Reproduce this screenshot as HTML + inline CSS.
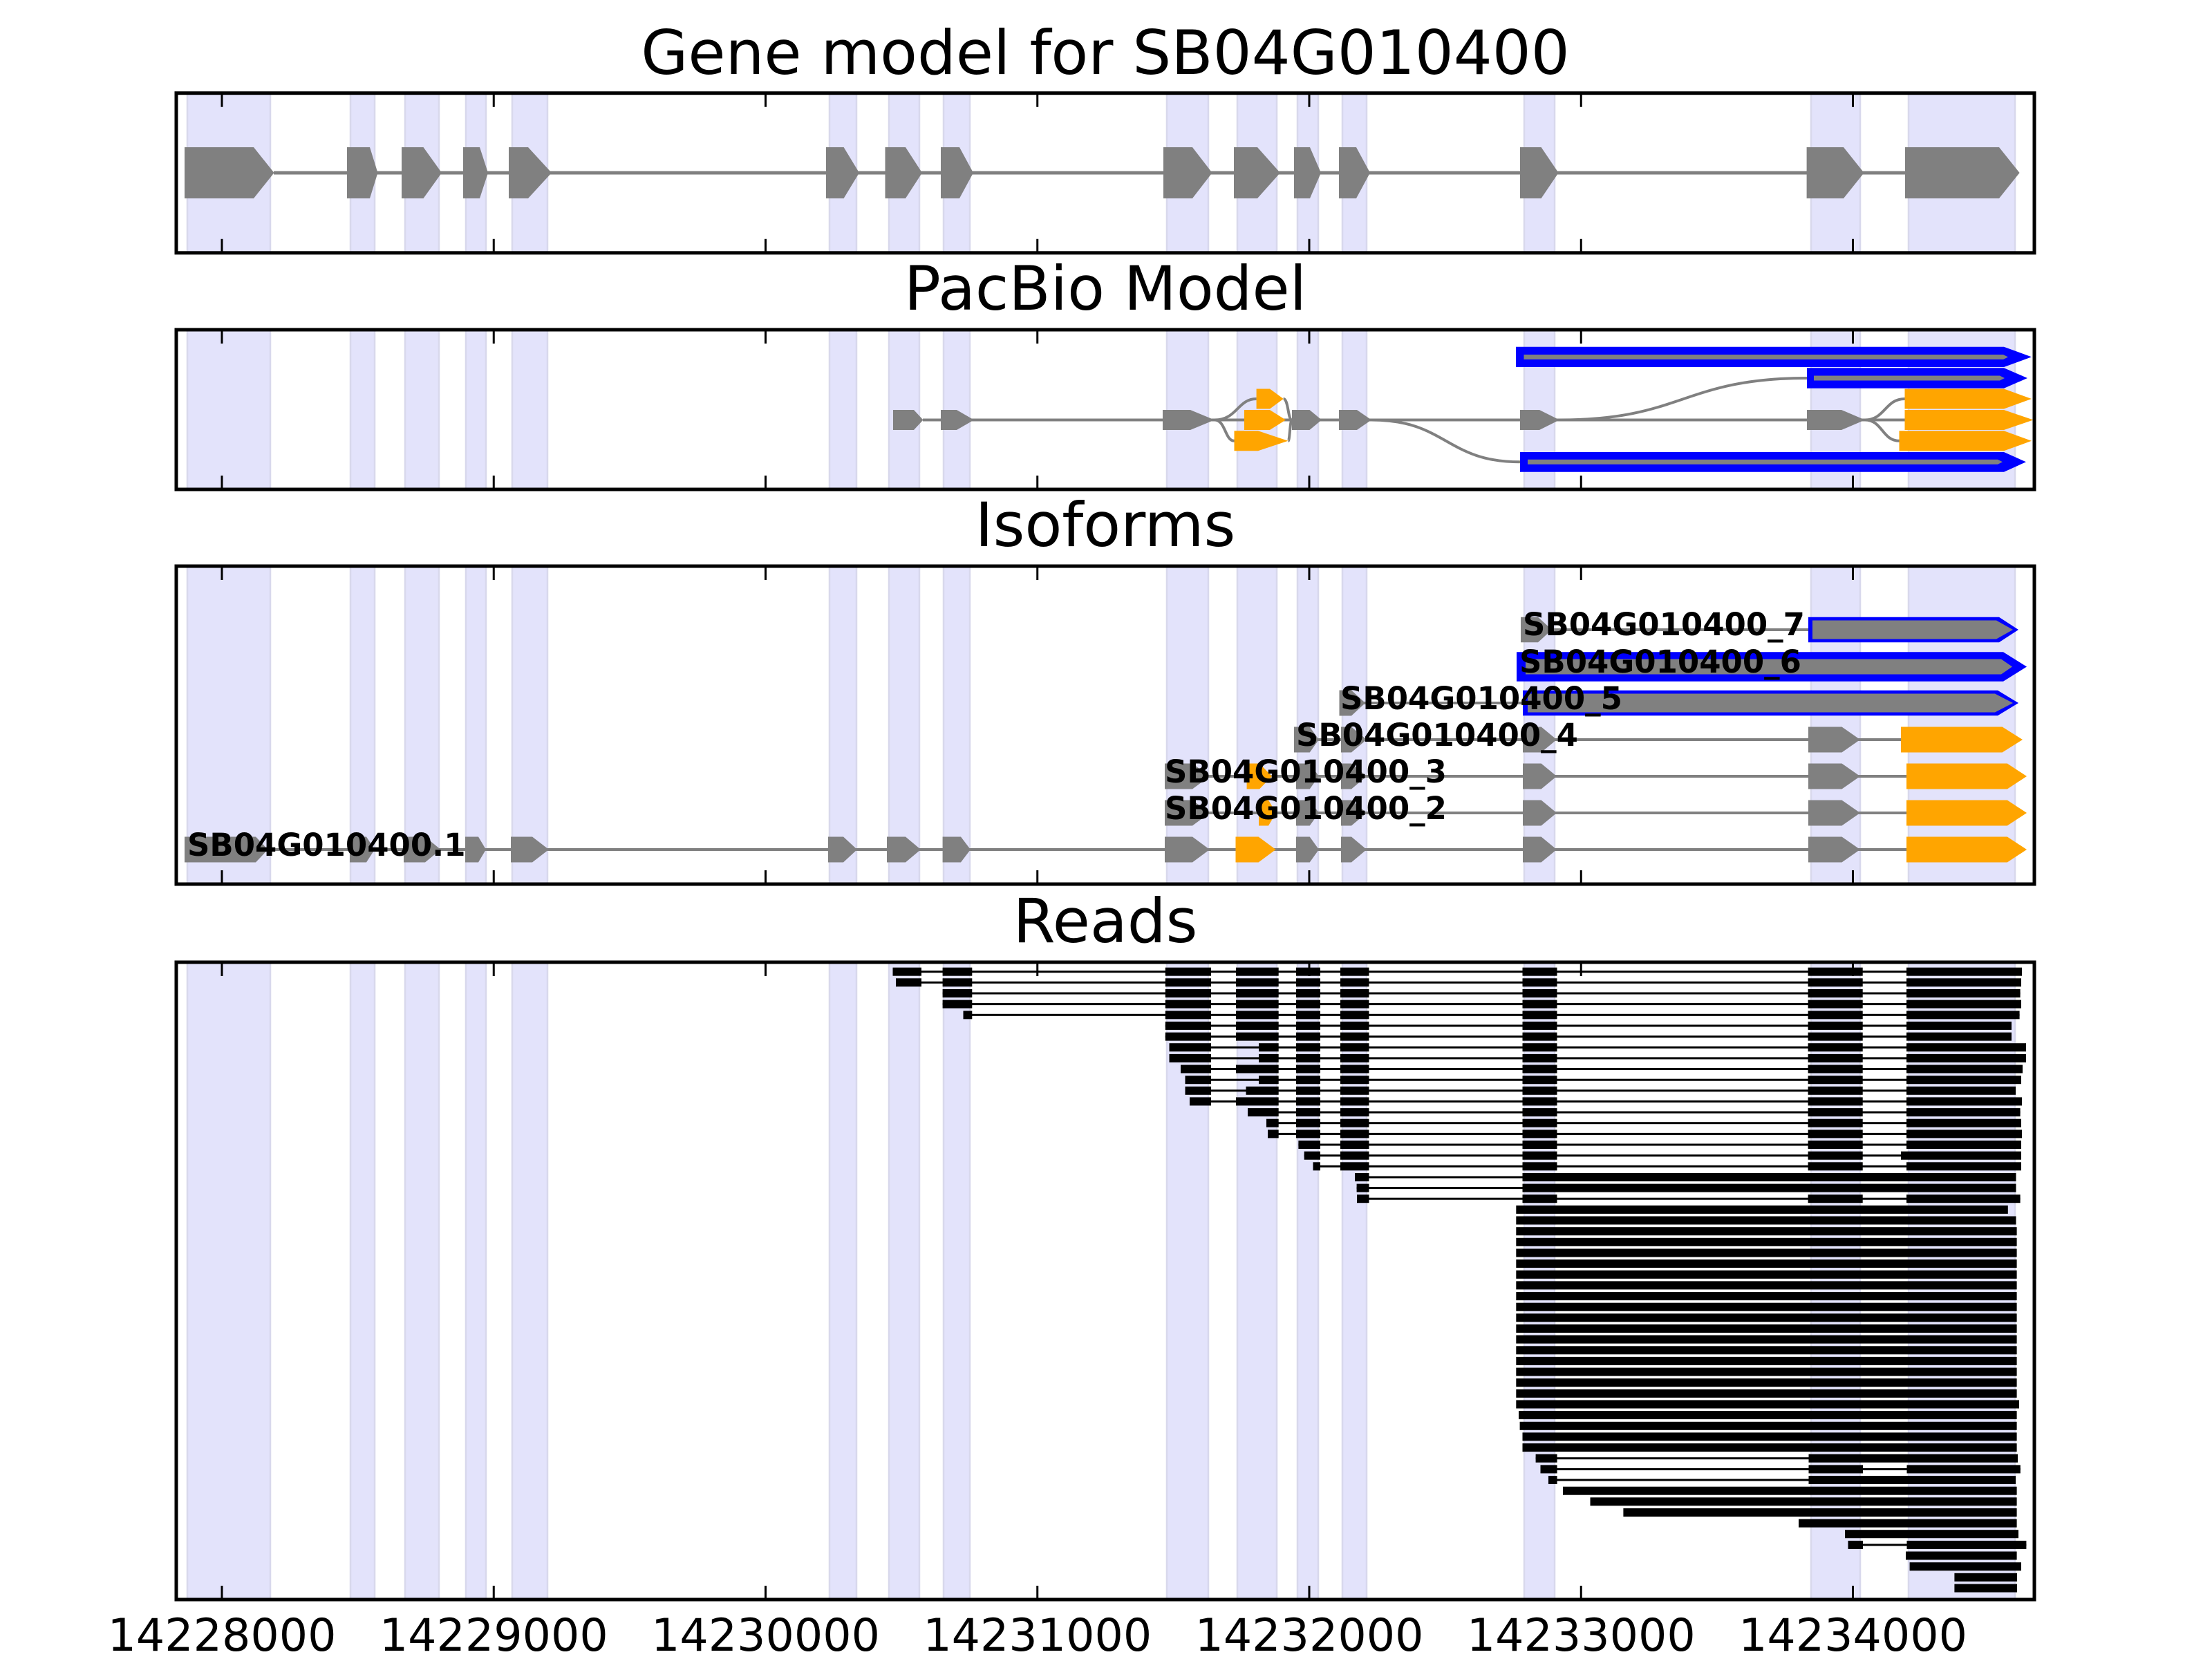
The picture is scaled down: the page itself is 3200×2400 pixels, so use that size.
<!DOCTYPE html>
<html><head><meta charset="utf-8"><style>
html,body{margin:0;padding:0;background:#fff;}
svg{display:block;}
.t{font-family:"DejaVu Sans","Liberation Sans",sans-serif;}
</style></head><body>
<svg xmlns="http://www.w3.org/2000/svg" xmlns:xlink="http://www.w3.org/1999/xlink" width="3200" height="2400" viewBox="0 0 3200 2400">
<defs>
<rect id="sb" x="2193.3" y="-6" width="724.3" height="12"/>
</defs>
<rect width="3200" height="2400" fill="#fff"/>

<!-- spans per panel -->
<g fill="#e3e3fb" stroke="#d8d8ec" stroke-width="2.5">
<g>
<rect x="271" y="134.7" width="120" height="231.1"/>
<rect x="507" y="134.7" width="35" height="231.1"/>
<rect x="586" y="134.7" width="49" height="231.1"/>
<rect x="674" y="134.7" width="29" height="231.1"/>
<rect x="741" y="134.7" width="51" height="231.1"/>
<rect x="1200" y="134.7" width="39" height="231.1"/>
<rect x="1286" y="134.7" width="44" height="231.1"/>
<rect x="1365" y="134.7" width="38" height="231.1"/>
<rect x="1688" y="134.7" width="60" height="231.1"/>
<rect x="1790" y="134.7" width="57" height="231.1"/>
<rect x="1877" y="134.7" width="30" height="231.1"/>
<rect x="1942" y="134.7" width="35" height="231.1"/>
<rect x="2205" y="134.7" width="44" height="231.1"/>
<rect x="2620" y="134.7" width="71" height="231.1"/>
<rect x="2761" y="134.7" width="154" height="231.1"/>
</g>
<g>
<rect x="271" y="477" width="120" height="231"/>
<rect x="507" y="477" width="35" height="231"/>
<rect x="586" y="477" width="49" height="231"/>
<rect x="674" y="477" width="29" height="231"/>
<rect x="741" y="477" width="51" height="231"/>
<rect x="1200" y="477" width="39" height="231"/>
<rect x="1286" y="477" width="44" height="231"/>
<rect x="1365" y="477" width="38" height="231"/>
<rect x="1688" y="477" width="60" height="231"/>
<rect x="1790" y="477" width="57" height="231"/>
<rect x="1877" y="477" width="30" height="231"/>
<rect x="1942" y="477" width="35" height="231"/>
<rect x="2205" y="477" width="44" height="231"/>
<rect x="2620" y="477" width="71" height="231"/>
<rect x="2761" y="477" width="154" height="231"/>
</g>
<g>
<rect x="271" y="819" width="120" height="460"/>
<rect x="507" y="819" width="35" height="460"/>
<rect x="586" y="819" width="49" height="460"/>
<rect x="674" y="819" width="29" height="460"/>
<rect x="741" y="819" width="51" height="460"/>
<rect x="1200" y="819" width="39" height="460"/>
<rect x="1286" y="819" width="44" height="460"/>
<rect x="1365" y="819" width="38" height="460"/>
<rect x="1688" y="819" width="60" height="460"/>
<rect x="1790" y="819" width="57" height="460"/>
<rect x="1877" y="819" width="30" height="460"/>
<rect x="1942" y="819" width="35" height="460"/>
<rect x="2205" y="819" width="44" height="460"/>
<rect x="2620" y="819" width="71" height="460"/>
<rect x="2761" y="819" width="154" height="460"/>
</g>
<g>
<rect x="271" y="1392" width="120" height="922"/>
<rect x="507" y="1392" width="35" height="922"/>
<rect x="586" y="1392" width="49" height="922"/>
<rect x="674" y="1392" width="29" height="922"/>
<rect x="741" y="1392" width="51" height="922"/>
<rect x="1200" y="1392" width="39" height="922"/>
<rect x="1286" y="1392" width="44" height="922"/>
<rect x="1365" y="1392" width="38" height="922"/>
<rect x="1688" y="1392" width="60" height="922"/>
<rect x="1790" y="1392" width="57" height="922"/>
<rect x="1877" y="1392" width="30" height="922"/>
<rect x="1942" y="1392" width="35" height="922"/>
<rect x="2205" y="1392" width="44" height="922"/>
<rect x="2620" y="1392" width="71" height="922"/>
<rect x="2761" y="1392" width="154" height="922"/>
</g>
</g>

<!-- Titles -->
<g class="t" font-size="88" text-anchor="middle" fill="#000">
<text x="1599" y="107">Gene model for SB04G010400</text>
<text x="1599" y="448">PacBio Model</text>
<text x="1599" y="790">Isoforms</text>
<text x="1599" y="1363">Reads</text>
</g>

<!-- Panel 1: gene model -->
<line x1="396" y1="250" x2="2760" y2="250" stroke="#808080" stroke-width="5"/>
<g fill="#808080">
<polygon points="267,213 367,213 396.5,250 367,287 267,287"/>
<polygon points="502,213 535,213 546.5,250 535,287 502,287"/>
<polygon points="581,213 612.5,213 639,250 612.5,287 581,287"/>
<polygon points="670,213 694,213 706,250 694,287 670,287"/>
<polygon points="736,213 764,213 798,250 764,287 736,287"/>
<polygon points="1195,213 1220.6,213 1243,250 1220.6,287 1195,287"/>
<polygon points="1280.5,213 1310,213 1334,250 1310,287 1280.5,287"/>
<polygon points="1361,213 1388,213 1408,250 1388,287 1361,287"/>
<polygon points="1683,213 1725,213 1753.6,250 1725,287 1683,287"/>
<polygon points="1785,213 1819,213 1852,250 1819,287 1785,287"/>
<polygon points="1872,213 1895,213 1911,250 1895,287 1872,287"/>
<polygon points="1937,213 1962,213 1982,250 1962,287 1937,287"/>
<polygon points="2199,213 2229.6,213 2254.6,250 2229.6,287 2199,287"/>
<polygon points="2613.6,213 2667,213 2696.6,250 2667,287 2613.6,287"/>
<polygon points="2756,213 2892,213 2921.6,250 2892,287 2756,287"/>
</g>

<!-- Panel 2: PacBio -->
<g fill="none" stroke="#808080" stroke-width="4">
<line x1="1335" y1="607.5" x2="2757" y2="607.5"/>
<path d="M1757 607.5 C1790 607.5 1790 577 1817.6 577"/>
<path d="M1856.7 577 C1864 577 1863 607.5 1869 607.5"/>
<path d="M1757 607.5 C1773 607.5 1772 637.8 1785.5 637.8"/>
<path d="M1863.5 637.8 C1866 637.8 1866 607.5 1869 607.5"/>
<path d="M2256 607.5 C2435 607.5 2435 547 2614 547"/>
<path d="M1984 607.5 C2092 607.5 2092 668.3 2199 668.3"/>
<path d="M2698 607.5 C2727 607.5 2727 577 2755.5 577"/>
<path d="M2698 607.5 C2723 607.5 2723 637.8 2747.5 637.8"/>
</g>
<g fill="#808080">
<polygon points="1292,593 1322,593 1335.5,607.5 1322,622 1292,622"/>
<polygon points="1361,593 1384,593 1409,607.5 1384,622 1361,622"/>
<polygon points="1682,593 1722,593 1757,607.5 1722,622 1682,622"/>
<polygon points="1869,593 1894.5,593 1912,607.5 1894.5,622 1869,622"/>
<polygon points="1937,593 1963,593 1984,607.5 1963,622 1937,622"/>
<polygon points="2199,593 2227,593 2256,607.5 2227,622 2199,622"/>
<polygon points="2614,593 2664,593 2698,607.5 2664,622 2614,622"/>
</g>
<g fill="#ffa500">
<polygon points="1800,593 1837,593 1860,607.5 1837,622 1800,622"/>
<polygon points="2755.5,593 2899,593 2941.5,607.5 2899,622 2755.5,622"/>
<polygon points="1817.6,562.5 1837,562.5 1856.7,577 1837,591.5 1817.6,591.5"/>
<polygon points="2755.5,562.5 2899,562.5 2939,577 2899,591.5 2755.5,591.5"/>
<polygon points="1785.5,623.3 1820,623.3 1863.5,637.8 1820,652.3 1785.5,652.3"/>
<polygon points="2747.5,623.3 2899,623.3 2939,637.8 2899,652.3 2747.5,652.3"/>
</g>
<g fill="#0000ff">
<polygon points="2193,501.7 2899,501.7 2939,516.35 2899,531 2193,531"/>
<polygon points="2614,532.3 2899,532.3 2933,547 2899,561.7 2614,561.7"/>
<polygon points="2199,654 2899,654 2931,668.3 2899,682.7 2199,682.7"/>
</g>
<g fill="#808080">
<polygon points="2204.5,513 2898,513 2905,516.5 2898,520 2204.5,520"/>
<polygon points="2624,543.5 2893,543.5 2900,547 2893,550.5 2624,550.5"/>
<polygon points="2210,664.8 2890,664.8 2897,668.3 2890,671.8 2210,671.8"/>
</g>

<!-- Panel 3: Isoforms -->
<g stroke="#808080" stroke-width="4">
<line x1="267" y1="1229" x2="2760" y2="1229"/>
<line x1="1685" y1="1176" x2="2760" y2="1176"/>
<line x1="1685" y1="1123" x2="2760" y2="1123"/>
<line x1="1872" y1="1070" x2="2752" y2="1070"/>
<line x1="1937.5" y1="1017" x2="2205" y2="1017"/>
<line x1="2245" y1="911" x2="2618" y2="911"/>
</g>
<g transform="translate(0,1229)">
<g fill="#808080">
<polygon points="267,-18.5 370,-18.5 387.5,0 370,18.5 267,18.5"/>
<polygon points="506,-18.5 530,-18.5 542,0 530,18.5 506,18.5"/>
<polygon points="584,-18.5 615,-18.5 637.6,0 615,18.5 584,18.5"/>
<polygon points="673,-18.5 692,-18.5 703,0 692,18.5 673,18.5"/>
<polygon points="739,-18.5 770,-18.5 794,0 770,18.5 739,18.5"/>
<polygon points="1198,-18.5 1220,-18.5 1240,0 1220,18.5 1198,18.5"/>
<polygon points="1283,-18.5 1310,-18.5 1332,0 1310,18.5 1283,18.5"/>
<polygon points="1363.6,-18.5 1390,-18.5 1404,0 1390,18.5 1363.6,18.5"/>
<polygon points="1685,-18.5 1725,-18.5 1750,0 1725,18.5 1685,18.5"/>
<polygon points="1875,-18.5 1894.7,-18.5 1908,0 1894.7,18.5 1875,18.5"/>
<polygon points="1940,-18.5 1955,-18.5 1977,0 1955,18.5 1940,18.5"/>
<polygon points="2203,-18.5 2229.6,-18.5 2252,0 2229.6,18.5 2203,18.5"/>
<polygon points="2616,-18.5 2664.5,-18.5 2691,0 2664.5,18.5 2616,18.5"/>
</g>
<g fill="#ffa500">
<polygon points="1787.5,-18.5 1820.6,-18.5 1845.6,0 1820.6,18.5 1787.5,18.5"/>
<polygon points="2758,-18.5 2903.8,-18.5 2932,0 2903.8,18.5 2758,18.5"/>
</g>
</g>
<g transform="translate(0,1176)">
<g fill="#808080">
<polygon points="1685,-18.5 1725,-18.5 1750,0 1725,18.5 1685,18.5"/>
<polygon points="1875,-18.5 1894.7,-18.5 1908,0 1894.7,18.5 1875,18.5"/>
<polygon points="1940,-18.5 1955,-18.5 1977,0 1955,18.5 1940,18.5"/>
<polygon points="2203,-18.5 2229.6,-18.5 2252,0 2229.6,18.5 2203,18.5"/>
<polygon points="2616,-18.5 2664.5,-18.5 2691,0 2664.5,18.5 2616,18.5"/>
</g>
<g fill="#ffa500">
<polygon points="1821,-18.5 1835,-18.5 1846,0 1835,18.5 1821,18.5"/>
<polygon points="2758,-18.5 2903.8,-18.5 2932,0 2903.8,18.5 2758,18.5"/>
</g>
</g>
<g transform="translate(0,1123)">
<g fill="#808080">
<polygon points="1685,-18.5 1725,-18.5 1750,0 1725,18.5 1685,18.5"/>
<polygon points="1875,-18.5 1894.7,-18.5 1908,0 1894.7,18.5 1875,18.5"/>
<polygon points="1940,-18.5 1955,-18.5 1977,0 1955,18.5 1940,18.5"/>
<polygon points="2203,-18.5 2229.6,-18.5 2252,0 2229.6,18.5 2203,18.5"/>
<polygon points="2616,-18.5 2664.5,-18.5 2691,0 2664.5,18.5 2616,18.5"/>
</g>
<g fill="#ffa500">
<polygon points="1803.6,-18.5 1822,-18.5 1840,0 1822,18.5 1803.6,18.5"/>
<polygon points="2758,-18.5 2903.8,-18.5 2932,0 2903.8,18.5 2758,18.5"/>
</g>
</g>
<g transform="translate(0,1070)">
<g fill="#808080">
<polygon points="1872,-18.5 1894.7,-18.5 1908,0 1894.7,18.5 1872,18.5"/>
<polygon points="1940,-18.5 1955,-18.5 1977,0 1955,18.5 1940,18.5"/>
<polygon points="2203,-18.5 2229.6,-18.5 2252,0 2229.6,18.5 2203,18.5"/>
<polygon points="2616,-18.5 2664.5,-18.5 2691,0 2664.5,18.5 2616,18.5"/>
</g>
<polygon fill="#ffa500" points="2750,-18.5 2896.6,-18.5 2926,0 2896.6,18.5 2750,18.5"/>
</g>
<g transform="translate(0,1017)">
<polygon fill="#808080" points="1937.5,-18.5 1955,-18.5 1975,0 1955,18.5 1937.5,18.5"/>
<polygon fill="#0000ff" points="2203,-18.3 2890,-18.3 2920,0 2890,18.3 2203,18.3"/>
<polygon fill="#808080" points="2210,-13.5 2886,-13.5 2912,0 2886,13.5 2210,13.5"/>
</g>
<g transform="translate(0,964.5)">
<polygon fill="#0000ff" points="2194,-21.2 2898,-21.2 2932,0 2898,21.2 2194,21.2"/>
<polygon fill="#808080" points="2207,-11 2895,-11 2911,0 2895,11 2207,11"/>
</g>
<g transform="translate(0,911)">
<polygon fill="#808080" points="2200,-18.3 2225,-18.3 2245,0 2225,18.3 2200,18.3"/>
<polygon fill="#0000ff" points="2616,-18.3 2892,-18.3 2920,0 2892,18.3 2616,18.3"/>
<polygon fill="#808080" points="2622,-13.5 2888,-13.5 2912,0 2888,13.5 2622,13.5"/>
</g>
<g class="t" font-size="45" font-weight="bold" fill="#000">
<text x="271" y="1238">SB04G010400.1</text>
<text x="1685" y="1185">SB04G010400_2</text>
<text x="1685" y="1132">SB04G010400_3</text>
<text x="1875" y="1079">SB04G010400_4</text>
<text x="1939" y="1026">SB04G010400_5</text>
<text x="2198" y="973">SB04G010400_6</text>
<text x="2203" y="919">SB04G010400_7</text>
</g>

<!-- Panel 4: Reads -->
<g fill="#000">
<g transform="translate(0,1405.7)"><rect x="1291.5" y="-1.5" width="1633.5" height="3"/><rect x="1291.5" y="-6" width="41.5" height="12"/><rect x="1363.6" y="-6" width="42.7" height="12"/><rect x="1685.8" y="-6" width="66.2" height="12"/><rect x="1788" y="-6" width="61.7" height="12"/><rect x="1875" y="-6" width="35" height="12"/><rect x="1939" y="-6" width="41.5" height="12"/><rect x="2202.5" y="-6" width="50" height="12"/><rect x="2615.6" y="-6" width="79.1" height="12"/><rect x="2758" y="-6" width="167" height="12"/></g>
<g transform="translate(0,1421.3)"><rect x="1296" y="-1.5" width="1628" height="3"/><rect x="1296" y="-6" width="37" height="12"/><rect x="1363.6" y="-6" width="42.7" height="12"/><rect x="1685.8" y="-6" width="66.2" height="12"/><rect x="1788" y="-6" width="61.7" height="12"/><rect x="1875" y="-6" width="35" height="12"/><rect x="1939" y="-6" width="41.5" height="12"/><rect x="2202.5" y="-6" width="50" height="12"/><rect x="2615.6" y="-6" width="79.1" height="12"/><rect x="2758" y="-6" width="166" height="12"/></g>
<g transform="translate(0,1437)"><rect x="1363.6" y="-1.5" width="1559" height="3"/><rect x="1363.6" y="-6" width="42.7" height="12"/><rect x="1685.8" y="-6" width="66.2" height="12"/><rect x="1788" y="-6" width="61.7" height="12"/><rect x="1875" y="-6" width="35" height="12"/><rect x="1939" y="-6" width="41.5" height="12"/><rect x="2202.5" y="-6" width="50" height="12"/><rect x="2615.6" y="-6" width="79.1" height="12"/><rect x="2758" y="-6" width="164.6" height="12"/></g>
<g transform="translate(0,1452.6)"><rect x="1363.6" y="-1.5" width="1560.4" height="3"/><rect x="1363.6" y="-6" width="42.7" height="12"/><rect x="1685.8" y="-6" width="66.2" height="12"/><rect x="1788" y="-6" width="61.7" height="12"/><rect x="1875" y="-6" width="35" height="12"/><rect x="1939" y="-6" width="41.5" height="12"/><rect x="2202.5" y="-6" width="50" height="12"/><rect x="2615.6" y="-6" width="79.1" height="12"/><rect x="2758" y="-6" width="166" height="12"/></g>
<g transform="translate(0,1468.3)"><rect x="1393.5" y="-1.5" width="1528.1" height="3"/><rect x="1393.5" y="-6" width="12.8" height="12"/><rect x="1685.8" y="-6" width="66.2" height="12"/><rect x="1788" y="-6" width="61.7" height="12"/><rect x="1875" y="-6" width="35" height="12"/><rect x="1939" y="-6" width="41.5" height="12"/><rect x="2202.5" y="-6" width="50" height="12"/><rect x="2615.6" y="-6" width="79.1" height="12"/><rect x="2758" y="-6" width="163.6" height="12"/></g>
<g transform="translate(0,1483.9)"><rect x="1685.8" y="-1.5" width="1224.2" height="3"/><rect x="1685.8" y="-6" width="66.2" height="12"/><rect x="1788" y="-6" width="61.7" height="12"/><rect x="1875" y="-6" width="35" height="12"/><rect x="1939" y="-6" width="41.5" height="12"/><rect x="2202.5" y="-6" width="50" height="12"/><rect x="2615.6" y="-6" width="79.1" height="12"/><rect x="2758" y="-6" width="152" height="12"/></g>
<g transform="translate(0,1499.6)"><rect x="1685.8" y="-1.5" width="1224.2" height="3"/><rect x="1685.8" y="-6" width="66.2" height="12"/><rect x="1788" y="-6" width="61.7" height="12"/><rect x="1875" y="-6" width="35" height="12"/><rect x="1939" y="-6" width="41.5" height="12"/><rect x="2202.5" y="-6" width="50" height="12"/><rect x="2615.6" y="-6" width="79.1" height="12"/><rect x="2758" y="-6" width="152" height="12"/></g>
<g transform="translate(0,1515.2)"><rect x="1691.5" y="-1.5" width="1239.5" height="3"/><rect x="1691.5" y="-6" width="60.5" height="12"/><rect x="1821" y="-6" width="28.7" height="12"/><rect x="1875" y="-6" width="35" height="12"/><rect x="1939" y="-6" width="41.5" height="12"/><rect x="2202.5" y="-6" width="50" height="12"/><rect x="2615.6" y="-6" width="79.1" height="12"/><rect x="2758" y="-6" width="173" height="12"/></g>
<g transform="translate(0,1530.9)"><rect x="1691.5" y="-1.5" width="1239.5" height="3"/><rect x="1691.5" y="-6" width="60.5" height="12"/><rect x="1821" y="-6" width="28.7" height="12"/><rect x="1875" y="-6" width="35" height="12"/><rect x="1939" y="-6" width="41.5" height="12"/><rect x="2202.5" y="-6" width="50" height="12"/><rect x="2615.6" y="-6" width="79.1" height="12"/><rect x="2758" y="-6" width="173" height="12"/></g>
<g transform="translate(0,1546.5)"><rect x="1708" y="-1.5" width="1218" height="3"/><rect x="1708" y="-6" width="44" height="12"/><rect x="1788" y="-6" width="61.7" height="12"/><rect x="1875" y="-6" width="35" height="12"/><rect x="1939" y="-6" width="41.5" height="12"/><rect x="2202.5" y="-6" width="50" height="12"/><rect x="2615.6" y="-6" width="79.1" height="12"/><rect x="2758" y="-6" width="168" height="12"/></g>
<g transform="translate(0,1562.2)"><rect x="1714.5" y="-1.5" width="1209.5" height="3"/><rect x="1714.5" y="-6" width="37.5" height="12"/><rect x="1821" y="-6" width="28.7" height="12"/><rect x="1875" y="-6" width="35" height="12"/><rect x="1939" y="-6" width="41.5" height="12"/><rect x="2202.5" y="-6" width="50" height="12"/><rect x="2615.6" y="-6" width="79.1" height="12"/><rect x="2758" y="-6" width="166" height="12"/></g>
<g transform="translate(0,1577.8)"><rect x="1714.5" y="-1.5" width="1201.5" height="3"/><rect x="1714.5" y="-6" width="37.5" height="12"/><rect x="1802.5" y="-6" width="47.2" height="12"/><rect x="1875" y="-6" width="35" height="12"/><rect x="1939" y="-6" width="41.5" height="12"/><rect x="2202.5" y="-6" width="50" height="12"/><rect x="2615.6" y="-6" width="79.1" height="12"/><rect x="2758" y="-6" width="158" height="12"/></g>
<g transform="translate(0,1593.4)"><rect x="1721" y="-1.5" width="1204" height="3"/><rect x="1721" y="-6" width="31" height="12"/><rect x="1788" y="-6" width="61.7" height="12"/><rect x="1875" y="-6" width="35" height="12"/><rect x="1939" y="-6" width="41.5" height="12"/><rect x="2202.5" y="-6" width="50" height="12"/><rect x="2615.6" y="-6" width="79.1" height="12"/><rect x="2758" y="-6" width="167" height="12"/></g>
<g transform="translate(0,1609.1)"><rect x="1805" y="-1.5" width="1117.6" height="3"/><rect x="1805" y="-6" width="44.7" height="12"/><rect x="1875" y="-6" width="35" height="12"/><rect x="1939" y="-6" width="41.5" height="12"/><rect x="2202.5" y="-6" width="50" height="12"/><rect x="2615.6" y="-6" width="79.1" height="12"/><rect x="2758" y="-6" width="164.6" height="12"/></g>
<g transform="translate(0,1624.7)"><rect x="1832" y="-1.5" width="1092" height="3"/><rect x="1832" y="-6" width="17.7" height="12"/><rect x="1875" y="-6" width="35" height="12"/><rect x="1939" y="-6" width="41.5" height="12"/><rect x="2202.5" y="-6" width="50" height="12"/><rect x="2615.6" y="-6" width="79.1" height="12"/><rect x="2758" y="-6" width="166" height="12"/></g>
<g transform="translate(0,1640.4)"><rect x="1834" y="-1.5" width="1091" height="3"/><rect x="1834" y="-6" width="15.7" height="12"/><rect x="1875" y="-6" width="35" height="12"/><rect x="1939" y="-6" width="41.5" height="12"/><rect x="2202.5" y="-6" width="50" height="12"/><rect x="2615.6" y="-6" width="79.1" height="12"/><rect x="2758" y="-6" width="167" height="12"/></g>
<g transform="translate(0,1656)"><rect x="1878.4" y="-1.5" width="1045.6" height="3"/><rect x="1878.4" y="-6" width="31.6" height="12"/><rect x="1939" y="-6" width="41.5" height="12"/><rect x="2202.5" y="-6" width="50" height="12"/><rect x="2615.6" y="-6" width="79.1" height="12"/><rect x="2758" y="-6" width="166" height="12"/></g>
<g transform="translate(0,1671.7)"><rect x="1886.7" y="-1.5" width="1037.3" height="3"/><rect x="1886.7" y="-6" width="23.3" height="12"/><rect x="1939" y="-6" width="41.5" height="12"/><rect x="2202.5" y="-6" width="50" height="12"/><rect x="2615.6" y="-6" width="79.1" height="12"/><rect x="2750" y="-6" width="174" height="12"/></g>
<g transform="translate(0,1687.3)"><rect x="1899.5" y="-1.5" width="1024.5" height="3"/><rect x="1899.5" y="-6" width="10.5" height="12"/><rect x="1939" y="-6" width="41.5" height="12"/><rect x="2202.5" y="-6" width="50" height="12"/><rect x="2615.6" y="-6" width="79.1" height="12"/><rect x="2758" y="-6" width="166" height="12"/></g>
<g transform="translate(0,1703)"><rect x="1960" y="-1.5" width="956.5" height="3"/><rect x="1960" y="-6" width="20.5" height="12"/><rect x="2202.5" y="-6" width="714" height="12"/></g>
<g transform="translate(0,1718.6)"><rect x="1962.6" y="-1.5" width="953.9" height="3"/><rect x="1962.6" y="-6" width="17.9" height="12"/><rect x="2202.5" y="-6" width="714" height="12"/></g>
<g transform="translate(0,1734.2)"><rect x="1963" y="-1.5" width="959.6" height="3"/><rect x="1963" y="-6" width="17.5" height="12"/><rect x="2202.5" y="-6" width="50" height="12"/><rect x="2615.6" y="-6" width="79.1" height="12"/><rect x="2758" y="-6" width="164.6" height="12"/></g>
<g transform="translate(0,1749.9)"><rect x="2193.3" y="-6" width="711.5" height="12"/></g>
<g transform="translate(0,1765.5)"><rect x="2193.3" y="-6" width="723.2" height="12"/></g>
<use xlink:href="#sb" transform="translate(0,1781.2)"/>
<use xlink:href="#sb" transform="translate(0,1796.8)"/>
<use xlink:href="#sb" transform="translate(0,1812.5)"/>
<use xlink:href="#sb" transform="translate(0,1828.1)"/>
<use xlink:href="#sb" transform="translate(0,1843.8)"/>
<use xlink:href="#sb" transform="translate(0,1859.4)"/>
<use xlink:href="#sb" transform="translate(0,1875.1)"/>
<use xlink:href="#sb" transform="translate(0,1890.7)"/>
<use xlink:href="#sb" transform="translate(0,1906.3)"/>
<use xlink:href="#sb" transform="translate(0,1922)"/>
<use xlink:href="#sb" transform="translate(0,1937.6)"/>
<use xlink:href="#sb" transform="translate(0,1953.3)"/>
<use xlink:href="#sb" transform="translate(0,1968.9)"/>
<use xlink:href="#sb" transform="translate(0,1984.6)"/>
<use xlink:href="#sb" transform="translate(0,2000.2)"/>
<use xlink:href="#sb" transform="translate(0,2015.9)"/>
<g transform="translate(0,2031.5)"><rect x="2193.3" y="-6" width="727.7" height="12"/></g>
<g transform="translate(0,2047.1)"><rect x="2197" y="-6" width="720.6" height="12"/></g>
<g transform="translate(0,2062.8)"><rect x="2198.6" y="-6" width="719" height="12"/></g>
<g transform="translate(0,2078.4)"><rect x="2202.5" y="-6" width="715.1" height="12"/></g>
<g transform="translate(0,2094.1)"><rect x="2202.5" y="-6" width="715.1" height="12"/></g>
<g transform="translate(0,2109.7)"><rect x="2221.6" y="-1.5" width="697.4" height="3"/><rect x="2221.6" y="-6" width="31" height="12"/><rect x="2616.5" y="-6" width="302.5" height="12"/></g>
<g transform="translate(0,2125.4)"><rect x="2228.5" y="-1.5" width="694.3" height="3"/><rect x="2228.5" y="-6" width="24.1" height="12"/><rect x="2616.5" y="-6" width="78.5" height="12"/><rect x="2758.5" y="-6" width="164.3" height="12"/></g>
<g transform="translate(0,2141)"><rect x="2240" y="-1.5" width="676" height="3"/><rect x="2240" y="-6" width="12.6" height="12"/><rect x="2616.5" y="-6" width="299.5" height="12"/></g>
<g transform="translate(0,2156.7)"><rect x="2261" y="-6" width="656.6" height="12"/></g>
<g transform="translate(0,2172.3)"><rect x="2300.5" y="-6" width="617.1" height="12"/></g>
<g transform="translate(0,2188)"><rect x="2348.4" y="-6" width="569.2" height="12"/></g>
<g transform="translate(0,2203.6)"><rect x="2602" y="-6" width="315.6" height="12"/></g>
<g transform="translate(0,2219.2)"><rect x="2669" y="-6" width="251" height="12"/></g>
<g transform="translate(0,2234.9)"><rect x="2673.5" y="-1.5" width="257.9" height="3"/><rect x="2673.5" y="-6" width="21.5" height="12"/><rect x="2758.5" y="-6" width="172.9" height="12"/></g>
<g transform="translate(0,2250.5)"><rect x="2757" y="-6" width="160.6" height="12"/></g>
<g transform="translate(0,2266.2)"><rect x="2762.6" y="-6" width="161.4" height="12"/></g>
<g transform="translate(0,2281.8)"><rect x="2827.4" y="-6" width="90.6" height="12"/></g>
<g transform="translate(0,2297.5)"><rect x="2827.4" y="-6" width="90.6" height="12"/></g>
</g>

<!-- Axes frames -->
<g fill="none" stroke="#000" stroke-width="5">
<rect x="255" y="134.7" width="2688" height="231.1"/>
<rect x="255" y="477" width="2688" height="231"/>
<rect x="255" y="819" width="2688" height="460"/>
<rect x="255" y="1392" width="2688" height="922"/>
</g>

<!-- Ticks -->
<g stroke="#000" stroke-width="3">
<path d="M321 134.7v20M714.25 134.7v20M1107.5 134.7v20M1500.75 134.7v20M1894 134.7v20M2287.25 134.7v20M2680.5 134.7v20
M321 365.8v-20M714.25 365.8v-20M1107.5 365.8v-20M1500.75 365.8v-20M1894 365.8v-20M2287.25 365.8v-20M2680.5 365.8v-20
M321 477v20M714.25 477v20M1107.5 477v20M1500.75 477v20M1894 477v20M2287.25 477v20M2680.5 477v20
M321 708v-20M714.25 708v-20M1107.5 708v-20M1500.75 708v-20M1894 708v-20M2287.25 708v-20M2680.5 708v-20
M321 819v20M714.25 819v20M1107.5 819v20M1500.75 819v20M1894 819v20M2287.25 819v20M2680.5 819v20
M321 1279v-20M714.25 1279v-20M1107.5 1279v-20M1500.75 1279v-20M1894 1279v-20M2287.25 1279v-20M2680.5 1279v-20
M321 1392v20M714.25 1392v20M1107.5 1392v20M1500.75 1392v20M1894 1392v20M2287.25 1392v20M2680.5 1392v20
M321 2314v-20M714.25 2314v-20M1107.5 2314v-20M1500.75 2314v-20M1894 2314v-20M2287.25 2314v-20M2680.5 2314v-20"/>
</g>

<!-- Tick labels -->
<g class="t" font-size="65" text-anchor="middle" fill="#000">
<text x="321" y="2388">14228000</text>
<text x="714.25" y="2388">14229000</text>
<text x="1107.5" y="2388">14230000</text>
<text x="1500.75" y="2388">14231000</text>
<text x="1894" y="2388">14232000</text>
<text x="2287.25" y="2388">14233000</text>
<text x="2680.5" y="2388">14234000</text>
</g>
</svg>
</body></html>
